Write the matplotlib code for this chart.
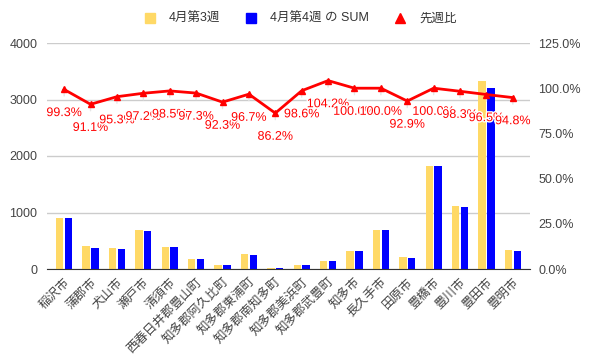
import matplotlib
matplotlib.use("Agg")
import matplotlib.pyplot as plt
from matplotlib.lines import Line2D
import matplotlib.patheffects as pe
import numpy as np

plt.rcParams['font.family'] = ['Liberation Sans', 'Noto Sans CJK JP', 'DejaVu Sans']

categories = ["稲沢市", "蒲郡市", "犬山市", "瀬戸市", "清須市", "西春日井郡豊山町",
              "知多郡阿久比町", "知多郡東浦町", "知多郡南知多町", "知多郡美浜町",
              "知多郡武豊町", "知多市", "長久手市", "田原市", "豊橋市", "豊川市",
              "豊田市", "豊明市"]
week3 = [900, 407, 372, 690, 390, 177, 71, 265, 20, 72, 138, 319, 690, 212, 1823, 1115, 3327, 336]
week4 = [894, 371, 354, 671, 384, 172, 65, 256, 17, 71, 144, 319, 690, 197, 1823, 1097, 3210, 319]
ratio = [99.3, 91.1, 95.3, 97.2, 98.5, 97.3, 92.3, 96.7, 86.2, 98.6, 104.2, 100.0,
         100.0, 92.9, 100.0, 98.3, 96.5, 94.8]
left_ticks = [0, 1000, 2000, 3000, 4000]
right_ticks = [0, 25, 50, 75, 100, 125]

yellow = "#FFD966"
blue = "#0000FF"
red = "#FF0000"
tick_col = "#444444"
fs = 8.5

fig = plt.figure(figsize=(5.94, 3.64), dpi=100)
ax = fig.add_axes([47/594, 1-269/364, (530-47)/594, (269-43)/364])
ax2 = ax.twinx()

x = np.arange(len(categories))
w = 0.28
off = 0.167
ax.bar(x - off, week3, width=w, color=yellow, zorder=3)
ax.bar(x + off, week4, width=w, color=blue, zorder=3)

ax.set_xlim(-0.65, len(categories) - 0.35)
ax.set_ylim(0, 4000)
ax.set_yticks(left_ticks)
ax.set_yticklabels([str(t) for t in left_ticks])
ax.grid(axis='y', color='#cccccc', linewidth=1, zorder=0)
ax.set_axisbelow(True)
for s in ['top', 'right', 'left']:
    ax.spines[s].set_visible(False)
ax.spines['bottom'].set_color('#333333')
ax.spines['bottom'].set_zorder(4)
ax.tick_params(axis='y', length=0, labelsize=fs + 0.5, colors=tick_col, pad=7)
ax.tick_params(axis='x', length=0, labelsize=fs + 0.5, colors=tick_col, pad=5)
ax.set_xticks(x)
ax.set_xticklabels(categories, rotation=45, ha='right', rotation_mode='anchor')

ax2.set_ylim(0, 125)
ax2.set_yticks(right_ticks)
ax2.set_yticklabels([f"{t:.1f}%" for t in right_ticks])
for s in ax2.spines.values():
    s.set_visible(False)
ax2.tick_params(axis='y', length=0, labelsize=fs + 0.5, colors=tick_col, pad=6)

ax2.plot(x, ratio, color=red, linewidth=2, marker='^', markersize=5, zorder=5)
for i, r in enumerate(ratio):
    ax2.annotate(f"{r:.1f}%", xy=(i, r), xytext=(0, -17), textcoords='offset points',
                 ha='center', va='center', fontsize=fs + 0.5, color=red,
                 path_effects=[pe.withStroke(linewidth=2, foreground='white')],
                 arrowprops=dict(arrowstyle='-', color='#e6e6e6', lw=1, shrinkA=6, shrinkB=0),
                 zorder=4)

handles = [
    Line2D([0], [0], marker='s', linestyle='none', markersize=7.5, color=yellow),
    Line2D([0], [0], marker='s', linestyle='none', markersize=7.5, color=blue),
    Line2D([0], [0], marker='^', linestyle='none', markersize=7.5, color=red),
]
fig.legend(handles, ["4月第3週", "4月第4週 の SUM", "先週比"], loc='center',
           bbox_to_anchor=(0.5, 1-19/364), ncol=3, frameon=False, fontsize=fs + 0.5,
           handletextpad=0.5, columnspacing=1.5, labelcolor='#333333')

fig.savefig("out.png", dpi=100)
